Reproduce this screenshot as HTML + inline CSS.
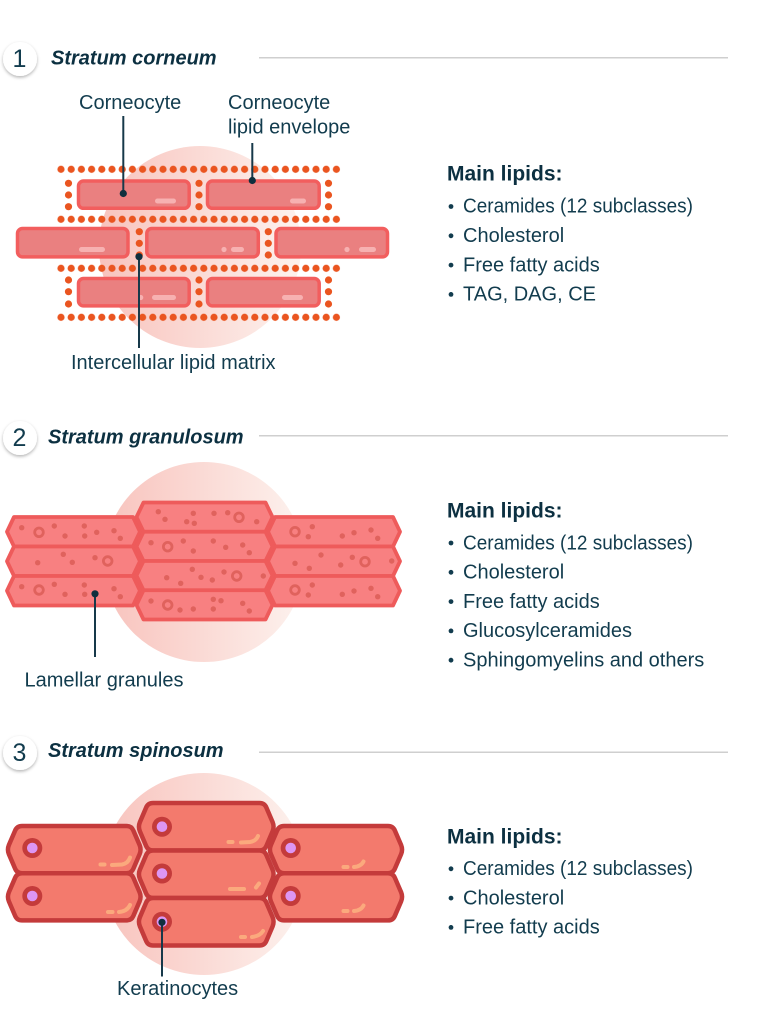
<!DOCTYPE html>
<html><head><meta charset="utf-8"><style>
html,body{margin:0;padding:0;background:#fff;}
svg{display:block;}
text{font-family:"Liberation Sans",sans-serif;fill:#123c4e;}
.h{font-size:20px;font-weight:700;font-style:italic;fill:#0c3041;}
.n{font-size:25px;}
.l{font-size:20px;}
.m{font-size:21px;font-weight:700;fill:#0c3041;}
.i{font-size:20px;}
</style></head><body>
<svg width="778" height="1024" viewBox="0 0 778 1024" xmlns="http://www.w3.org/2000/svg">
<defs>
<linearGradient id="bg" x1="0" y1="0" x2="1" y2="0">
<stop offset="0" stop-color="#f8c3bd"/><stop offset="1" stop-color="#fdf2ee"/>
</linearGradient>
<filter id="sh" x="-50%" y="-50%" width="200%" height="200%">
<feDropShadow dx="0" dy="1.5" stdDeviation="1.5" flood-color="#000" flood-opacity="0.3"/>
</filter>
<pattern id="dp" x="55.9" y="0" width="10.2" height="10" patternUnits="userSpaceOnUse">
<circle cx="5.1" cy="5" r="3.6" fill="#ea5520"/>
</pattern>
<g id="dotrow"><rect x="55.9" y="0" width="285.6" height="10" fill="url(#dp)"/></g>
</defs>

<!-- ===== Section 1 header ===== -->
<circle cx="20" cy="59" r="17" fill="#fff" filter="url(#sh)"/>
<text class="n" x="19.5" y="67" text-anchor="middle">1</text>
<text class="h" x="51" y="64.3">Stratum corneum</text>
<line x1="259" y1="57.7" x2="728" y2="57.7" stroke="#cfcfcf" stroke-width="1.5"/>

<!-- Section 1 diagram -->
<circle cx="200" cy="247" r="101" fill="url(#bg)"/>
<use href="#dotrow" y="164.3"/>
<use href="#dotrow" y="214.3"/>
<use href="#dotrow" y="263.3"/>
<use href="#dotrow" y="312.3"/>
<g fill="#ea5520">
<circle cx="68.5" cy="183.3" r="3.6"/><circle cx="68.5" cy="195" r="3.6"/><circle cx="68.5" cy="206.7" r="3.6"/>
<circle cx="199" cy="183.3" r="3.6"/><circle cx="199" cy="195" r="3.6"/><circle cx="199" cy="206.7" r="3.6"/>
<circle cx="328.5" cy="183.3" r="3.6"/><circle cx="328.5" cy="195" r="3.6"/><circle cx="328.5" cy="206.7" r="3.6"/>
<circle cx="139.3" cy="231.7" r="3.6"/><circle cx="139.3" cy="243.3" r="3.6"/><circle cx="139.3" cy="255" r="3.6"/>
<circle cx="268.3" cy="231.7" r="3.6"/><circle cx="268.3" cy="243.3" r="3.6"/><circle cx="268.3" cy="255" r="3.6"/>
<circle cx="68.5" cy="280" r="3.6"/><circle cx="68.5" cy="291.7" r="3.6"/><circle cx="68.5" cy="304" r="3.6"/>
<circle cx="199" cy="280" r="3.6"/><circle cx="199" cy="291.7" r="3.6"/><circle cx="199" cy="304" r="3.6"/>
<circle cx="328.5" cy="280" r="3.6"/><circle cx="328.5" cy="291.7" r="3.6"/><circle cx="328.5" cy="304" r="3.6"/>
</g>
<g fill="#ea8080" stroke="#f25e5e" stroke-width="3.5">
<rect x="78.5" y="181" width="110.7" height="27.3" rx="5"/>
<rect x="207.5" y="181" width="111.7" height="27.3" rx="5"/>
<rect x="17.5" y="228.5" width="110.5" height="28.4" rx="5"/>
<rect x="146.8" y="228.5" width="111.5" height="28.4" rx="5"/>
<rect x="276" y="228.5" width="111.5" height="28.4" rx="5"/>
<rect x="78.5" y="278.5" width="110.7" height="27.4" rx="5"/>
<rect x="207.5" y="278.5" width="111.7" height="27.4" rx="5"/>
</g>
<g fill="#f7b1b1">
<rect x="155" y="198.5" width="21" height="5" rx="2.5"/>
<rect x="290" y="198.5" width="16" height="5" rx="2.5"/>
<rect x="79" y="247" width="26" height="5" rx="2.5"/>
<circle cx="224" cy="249.5" r="2.6"/><rect x="231" y="247" width="13" height="5" rx="2.5"/>
<circle cx="347" cy="249.5" r="2.6"/><rect x="359" y="247" width="17" height="5" rx="2.5"/>
<circle cx="140.7" cy="297.5" r="2.6"/><rect x="152" y="295" width="24" height="5" rx="2.5"/>
<rect x="282" y="295" width="21" height="5" rx="2.5"/>
</g>
<g stroke="#17394a" stroke-width="2" fill="#0f2f3e">
<line x1="123.3" y1="116" x2="123.3" y2="193"/><circle cx="123.3" cy="193.5" r="3.6" stroke="none"/>
<line x1="252.3" y1="143" x2="252.3" y2="180"/><circle cx="252.3" cy="180.5" r="3.6" stroke="none"/>
<line x1="139" y1="257" x2="139" y2="348"/><circle cx="139" cy="256.7" r="3.6" stroke="none"/>
</g>
<text class="l" x="79" y="109">Corneocyte</text>
<text class="l" x="228" y="109">Corneocyte</text>
<text class="l" x="228" y="133.5">lipid envelope</text>
<text class="l" x="71" y="369">Intercellular lipid matrix</text>

<!-- Section 1 list -->
<text class="m" x="447" y="180.7">Main lipids:</text>
<g fill="#123c4e">
<circle cx="451" cy="206.5" r="2.4"/><circle cx="451" cy="235.8" r="2.4"/><circle cx="451" cy="265.1" r="2.4"/><circle cx="451" cy="294.4" r="2.4"/>
</g>
<text class="i" x="463" y="212.7" textLength="230" lengthAdjust="spacingAndGlyphs">Ceramides (12 subclasses)</text>
<text class="i" x="463" y="242">Cholesterol</text>
<text class="i" x="463" y="271.3">Free fatty acids</text>
<text class="i" x="463" y="300.6">TAG, DAG, CE</text>

<!-- ===== Section 2 header ===== -->
<circle cx="20" cy="438" r="17" fill="#fff" filter="url(#sh)"/>
<text class="n" x="19.5" y="446" text-anchor="middle">2</text>
<text class="h" x="48" y="443.3">Stratum granulosum</text>
<line x1="259" y1="435.7" x2="728" y2="435.7" stroke="#cfcfcf" stroke-width="1.5"/>

<circle cx="204" cy="562" r="100" fill="url(#bg)"/>
<g fill="#f88081" stroke="#ee5b5b" stroke-width="3.8" stroke-linejoin="round">
<polygon points="14,517 133,517 140,531.75 133,546.5 14,546.5 7,531.75"/>
<polygon points="14,546.5 133,546.5 140,561.25 133,576 14,576 7,561.25"/>
<polygon points="14,576 133,576 140,590.75 133,605.5 14,605.5 7,590.75"/>
<polygon points="275,517 393,517 400,531.75 393,546.5 275,546.5 268,531.75"/>
<polygon points="275,546.5 393,546.5 400,561.25 393,576 275,576 268,561.25"/>
<polygon points="275,576 393,576 400,590.75 393,605.5 275,605.5 268,590.75"/>
<polygon points="143.5,502.5 265.5,502.5 272.5,517.1 265.5,531.75 143.5,531.75 136.5,517.1"/>
<polygon points="143.5,531.75 265.5,531.75 272.5,546.4 265.5,561 143.5,561 136.5,546.4"/>
<polygon points="143.5,561 265.5,561 272.5,575.6 265.5,590.25 143.5,590.25 136.5,575.6"/>
<polygon points="143.5,590.25 265.5,590.25 272.5,604.9 265.5,619.5 143.5,619.5 136.5,604.9"/>
</g>
<g fill="#e0625d">
<circle cx="21.7" cy="527.7" r="2.7"/><circle cx="54.3" cy="526" r="2.7"/><circle cx="65" cy="536" r="2.7"/><circle cx="84.3" cy="526" r="2.7"/><circle cx="84.7" cy="536" r="2.7"/><circle cx="96.7" cy="532.3" r="2.7"/><circle cx="114" cy="530.7" r="2.7"/><circle cx="120.3" cy="538.3" r="2.7"/>
<circle cx="37.7" cy="562.7" r="2.7"/><circle cx="63.3" cy="554.3" r="2.7"/><circle cx="72.3" cy="562.3" r="2.7"/><circle cx="95" cy="557.7" r="2.7"/>
<circle cx="21.7" cy="586.7" r="2.7"/><circle cx="54.3" cy="584.3" r="2.7"/><circle cx="65" cy="594.3" r="2.7"/><circle cx="84.3" cy="585" r="2.7"/><circle cx="84.7" cy="594.3" r="2.7"/><circle cx="114" cy="588.7" r="2.7"/><circle cx="120.3" cy="596.7" r="2.7"/>
<circle cx="158.3" cy="511.7" r="2.7"/><circle cx="165" cy="519.3" r="2.7"/><circle cx="193.3" cy="513.3" r="2.7"/><circle cx="186.7" cy="521.7" r="2.7"/><circle cx="194.3" cy="523.3" r="2.7"/><circle cx="214" cy="513.3" r="2.7"/><circle cx="227.7" cy="512.7" r="2.7"/><circle cx="256.7" cy="521.7" r="2.7"/>
<circle cx="151" cy="542.7" r="2.7"/><circle cx="183.3" cy="541" r="2.7"/><circle cx="193.3" cy="551" r="2.7"/><circle cx="213.3" cy="541" r="2.7"/><circle cx="225.7" cy="547.3" r="2.7"/><circle cx="242.7" cy="545" r="2.7"/><circle cx="249.3" cy="552.7" r="2.7"/>
<circle cx="192.3" cy="569.3" r="2.7"/><circle cx="166.7" cy="577.7" r="2.7"/><circle cx="180.7" cy="583.3" r="2.7"/><circle cx="201" cy="577.3" r="2.7"/><circle cx="212.3" cy="580" r="2.7"/><circle cx="224" cy="572" r="2.7"/><circle cx="263.3" cy="576" r="2.7"/>
<circle cx="151" cy="601" r="2.7"/><circle cx="180" cy="610" r="2.7"/><circle cx="193.3" cy="609" r="2.7"/><circle cx="213.3" cy="599.3" r="2.7"/><circle cx="221" cy="600.7" r="2.7"/><circle cx="213.3" cy="609" r="2.7"/><circle cx="242.7" cy="603.3" r="2.7"/><circle cx="249.3" cy="611" r="2.7"/>
<circle cx="312.3" cy="526.7" r="2.7"/><circle cx="308.3" cy="536.7" r="2.7"/><circle cx="342.3" cy="536" r="2.7"/><circle cx="354" cy="532.7" r="2.7"/><circle cx="371" cy="530" r="2.7"/><circle cx="377.7" cy="538.3" r="2.7"/>
<circle cx="295" cy="563.3" r="2.7"/><circle cx="309.3" cy="568.3" r="2.7"/><circle cx="321" cy="555" r="2.7"/><circle cx="340.7" cy="565" r="2.7"/><circle cx="352.3" cy="557.3" r="2.7"/><circle cx="391.7" cy="561" r="2.7"/>
<circle cx="312.3" cy="585" r="2.7"/><circle cx="308.3" cy="595" r="2.7"/><circle cx="342.3" cy="594.3" r="2.7"/><circle cx="354" cy="591" r="2.7"/><circle cx="371" cy="588.3" r="2.7"/><circle cx="377.7" cy="596.7" r="2.7"/>
</g>
<g fill="none" stroke="#e0625d" stroke-width="2.8">
<circle cx="39" cy="532.3" r="4.3"/><circle cx="107.7" cy="561" r="4.3"/><circle cx="39" cy="590" r="4.3"/>
<circle cx="239" cy="517.3" r="4.3"/><circle cx="167.7" cy="546.7" r="4.3"/><circle cx="236.7" cy="576" r="4.3"/><circle cx="167.7" cy="605" r="4.3"/>
<circle cx="295" cy="531.7" r="4.3"/><circle cx="365" cy="561.7" r="4.3"/><circle cx="295" cy="590" r="4.3"/>
</g>
<line x1="95" y1="594" x2="95" y2="657" stroke="#17394a" stroke-width="2"/>
<circle cx="95" cy="593.8" r="3.6" fill="#0f2f3e"/>
<text class="l" x="24.5" y="686.7">Lamellar granules</text>

<text class="m" x="447" y="517.7">Main lipids:</text>
<g fill="#123c4e">
<circle cx="451" cy="543" r="2.4"/><circle cx="451" cy="572.3" r="2.4"/><circle cx="451" cy="601.6" r="2.4"/><circle cx="451" cy="630.9" r="2.4"/><circle cx="451" cy="660.2" r="2.4"/>
</g>
<text class="i" x="463" y="549.3" textLength="230" lengthAdjust="spacingAndGlyphs">Ceramides (12 subclasses)</text>
<text class="i" x="463" y="578.6">Cholesterol</text>
<text class="i" x="463" y="607.9">Free fatty acids</text>
<text class="i" x="463" y="637.2">Glucosylceramides</text>
<text class="i" x="463" y="666.5">Sphingomyelins and others</text>

<!-- ===== Section 3 header ===== -->
<circle cx="20" cy="753" r="17" fill="#fff" filter="url(#sh)"/>
<text class="n" x="19.5" y="761" text-anchor="middle">3</text>
<text class="h" x="48" y="757">Stratum spinosum</text>
<line x1="259" y1="752.3" x2="728" y2="752.3" stroke="#cfcfcf" stroke-width="1.5"/>

<circle cx="204" cy="874" r="101" fill="url(#bg)"/>
<g fill="#f37a6d" stroke="#c43b3b" stroke-width="4.5" stroke-linejoin="round">
<path d="M22,826 L126.5,826 Q131.5,826 133.4,830.6 L139.6,845 Q141.5,849.6 139.6,854.2 L133.4,868.6 Q131.5,873.2 126.5,873.2 L22,873.2 Q17,873.2 15.1,868.6 L8.9,854.2 Q7,849.6 8.9,845 L15.1,830.6 Q17,826 22,826Z"/>
<path d="M22,873.2 L126.5,873.2 Q131.5,873.2 133.4,877.8 L139.6,892.2 Q141.5,896.8 139.6,901.4 L133.4,915.8 Q131.5,920.4 126.5,920.4 L22,920.4 Q17,920.4 15.1,915.8 L8.9,901.4 Q7,896.8 8.9,892.2 L15.1,877.8 Q17,873.2 22,873.2Z"/>
<path d="M284,826 L388,826 Q393,826 394.9,830.6 L401.1,845 Q403,849.6 401.1,854.2 L394.9,868.6 Q393,873.2 388,873.2 L284,873.2 Q279,873.2 277.1,868.6 L270.9,854.2 Q269,849.6 270.9,845 L277.1,830.6 Q279,826 284,826Z"/>
<path d="M284,873.2 L388,873.2 Q393,873.2 394.9,877.8 L401.1,892.2 Q403,896.8 401.1,901.4 L394.9,915.8 Q393,920.4 388,920.4 L284,920.4 Q279,920.4 277.1,915.8 L270.9,901.4 Q269,896.8 270.9,892.2 L277.1,877.8 Q279,873.2 284,873.2Z"/>
<path d="M153,803 L259.5,803 Q264.5,803 266.4,807.6 L272.6,822.15 Q274.5,826.75 272.6,831.35 L266.4,845.9 Q264.5,850.5 259.5,850.5 L153,850.5 Q148,850.5 146.1,845.9 L139.9,831.35 Q138,826.75 139.9,822.15 L146.1,807.6 Q148,803 153,803Z"/>
<path d="M153,850.5 L259.5,850.5 Q264.5,850.5 266.4,855.1 L272.6,869.65 Q274.5,874.25 272.6,878.85 L266.4,893.4 Q264.5,898 259.5,898 L153,898 Q148,898 146.1,893.4 L139.9,878.85 Q138,874.25 139.9,869.65 L146.1,855.1 Q148,850.5 153,850.5Z"/>
<path d="M153,898 L259.5,898 Q264.5,898 266.4,902.6 L272.6,917.15 Q274.5,921.75 272.6,926.35 L266.4,940.9 Q264.5,945.5 259.5,945.5 L153,945.5 Q148,945.5 146.1,940.9 L139.9,926.35 Q138,921.75 139.9,917.15 L146.1,902.6 Q148,898 153,898Z"/>
</g>
<g fill="none" stroke="#fba97d" stroke-width="4" stroke-linecap="round">
<path d="M228.5,842 L232.5,842"/><path d="M241,842.5 L250,842 Q256,841 258,836"/>
<path d="M230,889 L244,889"/><path d="M256,887.5 L259,883.5"/>
<path d="M241,937 L245,937"/><path d="M252,937 Q260,936 263,931"/>
<path d="M100.5,864.5 L104.5,864.5"/><path d="M112,865 L122,864.5 Q128,863.5 130,857.5"/>
<path d="M108,912 L112.5,912"/><path d="M119,912 Q127,911.5 130,905"/>
<path d="M343.5,867 L347.5,867"/><path d="M354,867 Q361,866.5 363.5,861.5"/>
<path d="M343.5,911 L347.5,911"/><path d="M354,911 Q361,910.5 363.5,905.5"/>
</g>
<g fill="#c43b3b">
<circle cx="32.3" cy="848" r="10"/><circle cx="32.3" cy="896" r="10"/>
<circle cx="162" cy="826.7" r="10"/><circle cx="162" cy="873.5" r="10"/><circle cx="162" cy="921.7" r="10"/>
<circle cx="290.7" cy="848" r="10"/><circle cx="290.7" cy="896" r="10"/>
</g>
<g fill="#dd96f3">
<circle cx="32.3" cy="848" r="5.3"/><circle cx="32.3" cy="896" r="5.3"/>
<circle cx="162" cy="826.7" r="5.3"/><circle cx="162" cy="873.5" r="5.3"/><circle cx="162" cy="921.7" r="5.3"/>
<circle cx="290.7" cy="848" r="5.3"/><circle cx="290.7" cy="896" r="5.3"/>
</g>
<line x1="162" y1="922" x2="162" y2="976.5" stroke="#17394a" stroke-width="2"/>
<circle cx="162" cy="922.3" r="3.6" fill="#0f2f3e"/>
<text class="l" x="117" y="995">Keratinocytes</text>

<text class="m" x="447" y="843.3">Main lipids:</text>
<g fill="#123c4e">
<circle cx="451" cy="868.8" r="2.4"/><circle cx="451" cy="898.1" r="2.4"/><circle cx="451" cy="927.4" r="2.4"/>
</g>
<text class="i" x="463" y="875" textLength="230" lengthAdjust="spacingAndGlyphs">Ceramides (12 subclasses)</text>
<text class="i" x="463" y="904.3">Cholesterol</text>
<text class="i" x="463" y="933.6">Free fatty acids</text>
</svg>
</body></html>
